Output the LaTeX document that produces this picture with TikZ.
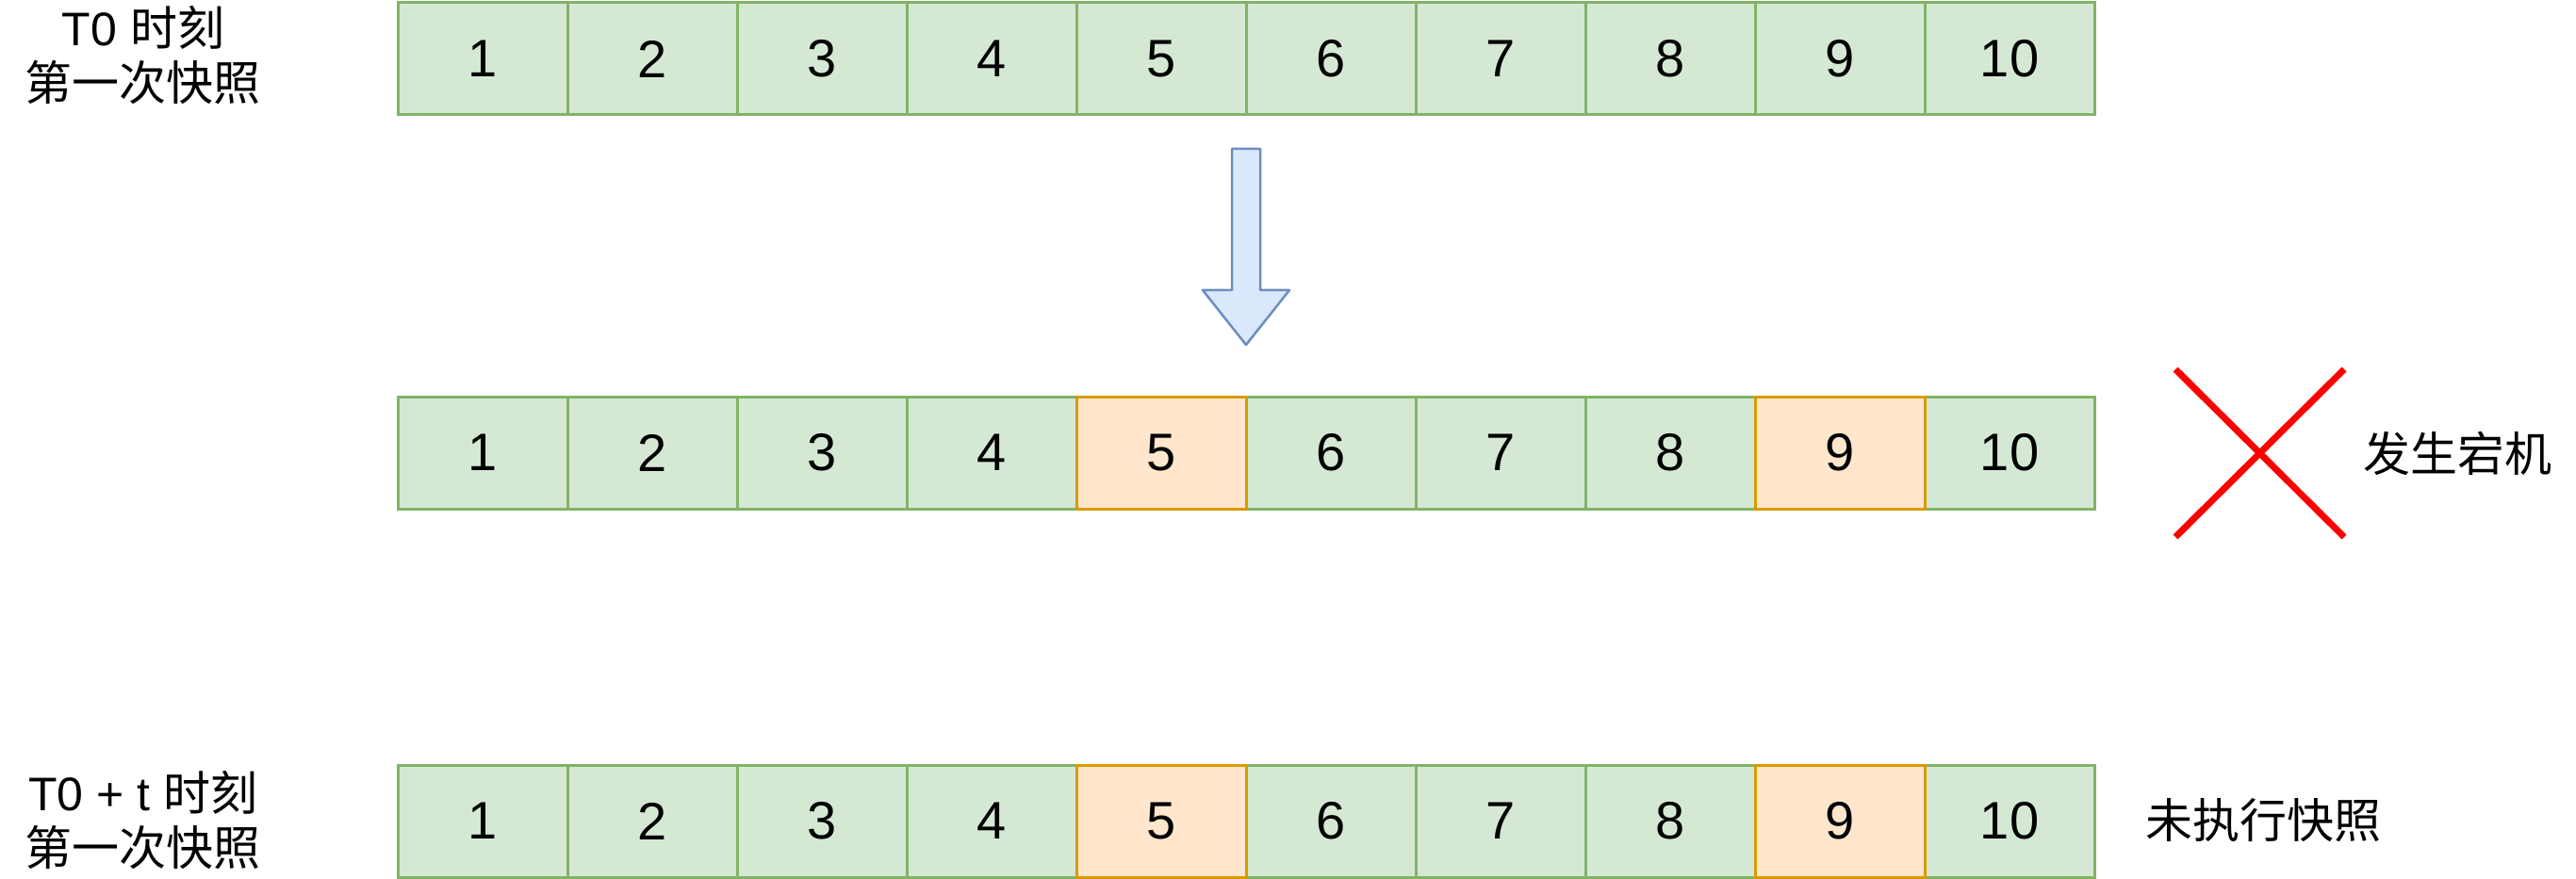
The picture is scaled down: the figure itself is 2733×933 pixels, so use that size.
\documentclass[tikz,border=0pt]{standalone}
\usepackage{fontspec}
\setmainfont{Liberation Sans}
\newfontfamily\cjk{Noto Sans CJK SC}
\definecolor{gfill}{HTML}{D5E8D4}
\definecolor{gline}{HTML}{82B366}
\definecolor{ofill}{HTML}{FFE6CC}
\definecolor{oline}{HTML}{D79B00}
\definecolor{bfill}{HTML}{DAE8FC}
\definecolor{bline}{HTML}{6C8EBF}
\begin{document}
\begin{tikzpicture}[x=1pt,y=-1pt,
  cellg/.style={draw=gline,fill=gfill,line width=3pt,minimum width=180pt,minimum height=119pt,inner sep=0pt,font=\fontsize{56}{60}\selectfont},
  cello/.style={cellg,draw=oline,fill=ofill},
  lbl/.style={inner sep=0pt,align=center,font=\fontsize{50}{58}\selectfont},
]
\useasboundingbox (0,0) rectangle (2733,933);
% rows
\foreach \r/\y in {1/62.5,2/480.5,3/871.5}{
  \foreach \i in {1,...,10}{
    \pgfmathsetmacro{\cx}{422+180*(\i-1)+90}
    \node[cellg] (r\r c\i) at (\cx,\y) {\i};
  }
}
% orange cells (redraw on top)
\foreach \r/\y in {2/480.5,3/871.5}{
  \foreach \i in {5,9}{
    \pgfmathsetmacro{\cx}{422+180*(\i-1)+90}
    \node[cello] (o\r c\i) at (\cx,\y) {\i};
  }
}
% arrow
\draw[draw=bline,fill=bfill,line width=2.5pt,line join=round]
  (1307,158) -- (1337,158) -- (1337,308) -- (1368,308) -- (1322,366)
  -- (1276,308) -- (1307,308) -- cycle;
% red X
\coordinate (xa) at (2308,392);
\coordinate (xb) at (2487,570);
\coordinate (xc) at (2308,570);
\coordinate (xd) at (2487,392);
\draw[red,line width=7pt] (xa) -- (xb);
\draw[red,line width=7pt] (xc) -- (xd);
% labels
\node[lbl] (l1) at (152,59) {T0 {\cjk 时刻}\\{\cjk 第一次快照}};
\node[lbl] (l3) at (152,870) {T0 + t {\cjk 时刻}\\{\cjk 第一次快照}};
\node[lbl] (crash) at (2607,481) {\cjk 发生宕机};
\node[lbl] (nosnap) at (2401,871) {\cjk 未执行快照};
\end{tikzpicture}
\end{document}
